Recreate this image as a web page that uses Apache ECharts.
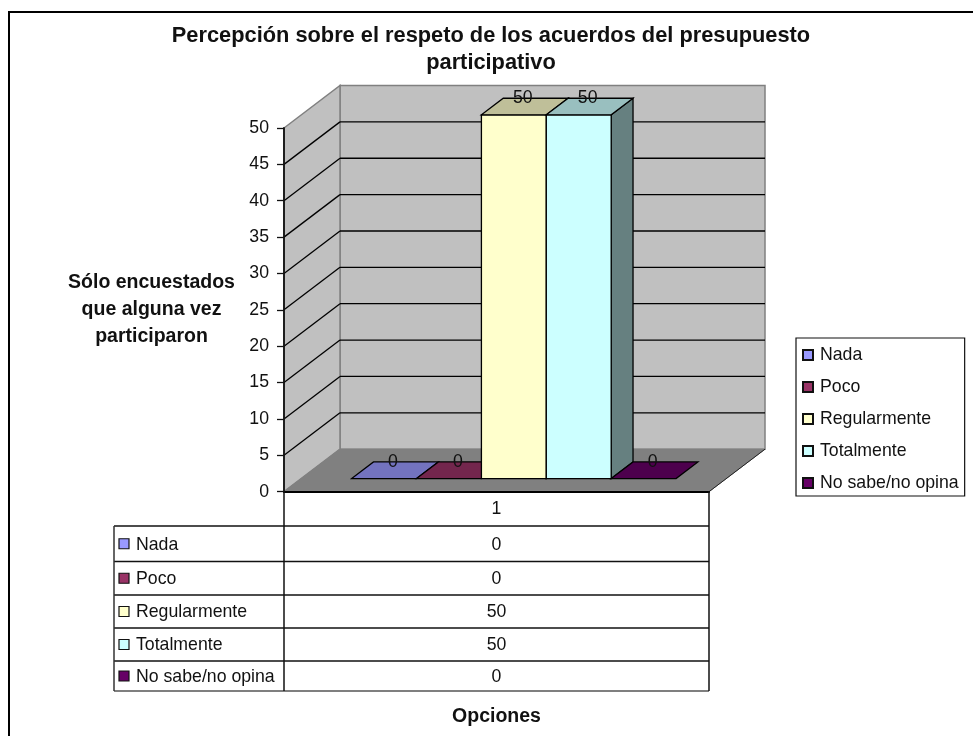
<!DOCTYPE html>
<html>
<head>
<meta charset="utf-8">
<title>Presupuesto participativo</title>
<style>
  html, body { margin: 0; padding: 0; background: #fff; }
  #chart { width: 973px; height: 736px; }
</style>
<script src="https://cdn.jsdelivr.net/npm/echarts@6/dist/echarts.min.js"></script>
</head>
<body>
<div id="chart"></div>
<script>
// datos
const categories = ["1"];
const seriesNames = ["Nada", "Poco", "Regularmente", "Totalmente", "No sabe/no opina"];
const seriesValues = [0, 0, 50, 50, 0];
const seriesColors = ["#9999FF", "#993366", "#FFFFCC", "#CCFFFF", "#660066"];
const topColors = ["#7373BF", "#73264D", "#BFBF99", "#99BFBF", "#4D004D"];
const sideColors = ["#4D4D80", "#4D1A33", "#808066", "#668080", "#330033"];
const yTicks = [0, 5, 10, 15, 20, 25, 30, 35, 40, 45, 50];

const FONT = '"Liberation Sans", Arial, sans-serif';
const TEXT_SIZE = 17.7, BOLD_SIZE = 19.5, TITLE_SIZE = 21.8;
const DEPTH_X = 56, DEPTH_Y = 42.5;  // profundidad del piso
const BAR_NEAR = 0.31, BAR_FAR = 0.70;  // la barra dentro del piso
const GAP = 1.55;  // separacion en anchos de barra

// tabla de datos bajo el eje
const tableLeft = 114, tableMid = 284, tableRight = 709;
const rowLines = [526, 561.5, 595, 628, 661, 691];

function poly(points, fill, stroke, lineWidth) {
  return {
    type: "polygon",
    shape: { points: points },
    style: { fill: fill, stroke: stroke, lineWidth: lineWidth === undefined ? 1 : lineWidth },
  };
}

function seg(p1, p2, stroke, lineWidth) {
  return {
    type: "line",
    shape: { x1: p1[0], y1: p1[1], x2: p2[0], y2: p2[1] },
    style: { stroke: stroke, lineWidth: lineWidth || 1.3 },
  };
}

// paredes y piso, un elemento por cada marca del eje
function renderWalls(params, api) {
  const v = api.value(0);
  const bottom = api.coord([0, 0]);
  const top = api.coord([0, yTicks[yTicks.length - 1]]);
  const band = api.size([1, 0])[0];
  const x0 = bottom[0] - band / 2;
  const x1 = x0 + band;
  const y = api.coord([0, v])[1];
  const children = [];
  if (v === 0) {
    children.push(poly([[x0 + DEPTH_X, top[1] - DEPTH_Y], [x1 + DEPTH_X, top[1] - DEPTH_Y],
      [x1 + DEPTH_X, bottom[1] - DEPTH_Y], [x0 + DEPTH_X, bottom[1] - DEPTH_Y]], "#C0C0C0", "#808080", 1.5));
    children.push(poly([[x0, top[1]], [x0 + DEPTH_X, top[1] - DEPTH_Y],
      [x0 + DEPTH_X, bottom[1] - DEPTH_Y], [x0, bottom[1]]], "#C0C0C0", "#808080", 1.5));
    children.push(poly([[x0, bottom[1]], [x1, bottom[1]],
      [x1 + DEPTH_X, bottom[1] - DEPTH_Y], [x0 + DEPTH_X, bottom[1] - DEPTH_Y]], "#808080", "#808080", 1));
    children.push(seg([x1, bottom[1]], [x1 + DEPTH_X, bottom[1] - DEPTH_Y], "#222", 1));
  } else if (v < yTicks[yTicks.length - 1]) {
    children.push(seg([x0, y], [x0 + DEPTH_X, y - DEPTH_Y], "#000", 1.3));
    children.push(seg([x0 + DEPTH_X, y - DEPTH_Y], [x1 + DEPTH_X, y - DEPTH_Y], "#000", 1.3));
  }
  return { type: "group", children: children };
}

// barra 3D, una serie por opcion
function renderBar(params, api) {
  const i = params.seriesIndex - 1;
  const base = api.coord([0, 0]);
  const tip = api.coord([0, api.value(1)]);
  const band = api.size([1, 0])[0];
  const w = band / (seriesNames.length + GAP);
  const xl = base[0] - band / 2 + (GAP / 2 + i) * w + DEPTH_X * BAR_NEAR;
  const xr = xl + w;
  const yb = base[1] - DEPTH_Y * BAR_NEAR;
  const yt = tip[1] - DEPTH_Y * BAR_NEAR;
  const dx = DEPTH_X * (BAR_FAR - BAR_NEAR);
  const dy = DEPTH_Y * (BAR_FAR - BAR_NEAR);
  const children = [];
  if (yb - yt > 0.5) {
    children.push(poly([[xr, yt], [xr + dx, yt - dy], [xr + dx, yb - dy], [xr, yb]], sideColors[i], "#000", 1.3));
    children.push(poly([[xl, yt], [xr, yt], [xr, yb], [xl, yb]], seriesColors[i], "#000", 1.3));
  }
  children.push(poly([[xl, yt], [xr, yt], [xr + dx, yt - dy], [xl + dx, yt - dy]], topColors[i], "#000", 1.3));
  children.push({
    type: "text",
    style: {
      text: String(api.value(1)),
      x: (xl + xr + dx) / 2 - 2,
      y: yt - dy / 2 - 8,
      align: "center",
      verticalAlign: "middle",
      font: TEXT_SIZE + "px " + FONT,
      fill: "#111",
    },
  });
  return { type: "group", children: children };
}

function tableGraphics() {
  const items = [];
  const line = (x1, y1, x2, y2, color) => ({
    type: "line",
    z: 5,
    shape: { x1: x1, y1: y1, x2: x2, y2: y2 },
    style: { stroke: color || "#111", lineWidth: 1.5 },
  });
  // marco exterior, sale por la derecha y por abajo
  items.push({
    type: "rect",
    z: -1,
    shape: { x: 9, y: 12, width: 1000, height: 800 },
    style: { fill: "#fff", stroke: "#000", lineWidth: 2 },
  });
  rowLines.forEach((y, r) => {
    items.push(line(tableLeft, y, tableRight, y, r === rowLines.length - 1 ? "#555" : "#111"));
  });
  items.push(line(tableLeft, rowLines[0], tableLeft, rowLines[rowLines.length - 1], "#333"));
  items.push(line(tableMid, 491, tableMid, rowLines[rowLines.length - 1]));
  items.push(line(tableRight, 491, tableRight, rowLines[rowLines.length - 1]));
  seriesNames.forEach((name, i) => {
    const cy = (rowLines[i] + rowLines[i + 1]) / 2;
    items.push({
      type: "rect",
      z: 5,
      shape: { x: 119, y: cy - 5, width: 10, height: 10 },
      style: { fill: seriesColors[i], stroke: "#111", lineWidth: 1.2 },
    });
    items.push({
      type: "text",
      z: 5,
      style: { text: name, x: 136, y: cy + 1, verticalAlign: "middle", font: TEXT_SIZE + "px " + FONT, fill: "#111" },
    });
    items.push({
      type: "text",
      z: 5,
      style: {
        text: String(seriesValues[i]),
        x: (tableMid + tableRight) / 2,
        y: cy + 1,
        align: "center",
        verticalAlign: "middle",
        font: TEXT_SIZE + "px " + FONT,
        fill: "#111",
      },
    });
  });
  return items;
}

const series = [
  {
    type: "custom",
    name: "paredes",
    silent: true,
    renderItem: renderWalls,
    encode: { y: 0 },
    clip: false,
    z: 1,
    data: yTicks.map((t) => [t]),
  },
];
seriesNames.forEach((name, i) => {
  series.push({
    type: "custom",
    name: name,
    renderItem: renderBar,
    encode: { x: 0, y: 1 },
    clip: false,
    z: 2,
    itemStyle: { color: seriesColors[i], borderColor: "#111", borderWidth: 1.2 },
    data: [[0, seriesValues[i]]],
  });
});

const chart = echarts.init(document.getElementById("chart"), null, { renderer: "canvas" });
chart.setOption({
  animation: false,
  backgroundColor: "#fff",
  textStyle: { fontFamily: FONT },
  title: {
    text: "Percepción sobre el respeto de los acuerdos del presupuesto\nparticipativo",
    left: 486,
    top: 17,
    textAlign: "center",
    textStyle: { fontFamily: FONT, fontSize: TITLE_SIZE, fontWeight: "bold", color: "#111", lineHeight: 27 },
  },
  legend: {
    data: seriesNames,
    orient: "vertical",
    left: 796,
    top: 338,
    padding: [8, 6, 4, 6],
    itemWidth: 10,
    itemHeight: 10,
    itemGap: 14,
    icon: "rect",
    backgroundColor: "#fff",
    borderColor: "#111",
    borderWidth: 1.2,
    selectedMode: false,
    textStyle: { fontFamily: FONT, fontSize: TEXT_SIZE, color: "#111", padding: [0, 0, 0, 2] },
  },
  grid: { left: 284, top: 128, width: 425, height: 363.7 },
  xAxis: {
    type: "category",
    data: categories,
    name: "Opciones",
    nameLocation: "middle",
    nameGap: 215,
    nameTextStyle: { fontFamily: FONT, fontSize: BOLD_SIZE, fontWeight: "bold", color: "#111" },
    axisLine: { show: true, lineStyle: { color: "#000", width: 2 } },
    axisTick: { show: false },
    axisLabel: { margin: 8, fontFamily: FONT, fontSize: TEXT_SIZE, color: "#111" },
    z: 4,
  },
  yAxis: {
    type: "value",
    min: 0,
    max: 50,
    interval: 5,
    name: "Sólo encuestados\nque alguna vez\nparticiparon",
    nameLocation: "middle",
    nameRotate: 0,
    nameGap: 132.5,
    nameTextStyle: {
      fontFamily: FONT,
      fontSize: BOLD_SIZE,
      fontWeight: "bold",
      color: "#111",
      align: "center",
      lineHeight: 27,
      padding: [0, 0, 4, 0],
    },
    splitLine: { show: false },
    axisLine: { show: true, onZero: false, lineStyle: { color: "#111", width: 1.8 } },
    axisTick: { show: true, length: 7, lineStyle: { color: "#111", width: 1.3 } },
    axisLabel: { margin: 15, fontFamily: FONT, fontSize: TEXT_SIZE, color: "#111" },
    z: 4,
  },
  series: series,
  graphic: { elements: tableGraphics() },
});
</script>
</body>
</html>
